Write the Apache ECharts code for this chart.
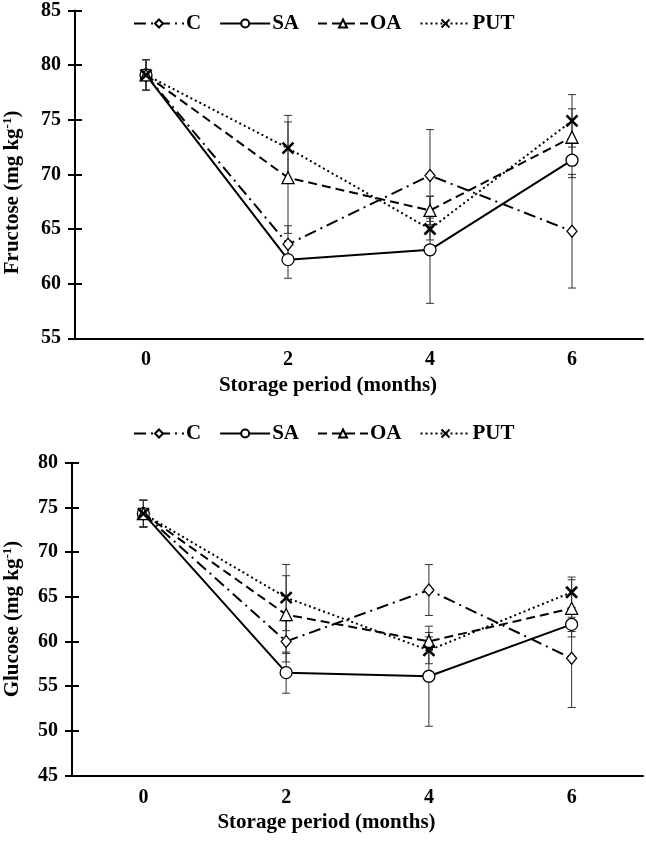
<!DOCTYPE html>
<html><head><meta charset="utf-8">
<script src="https://cdn.jsdelivr.net/npm/echarts@6/dist/echarts.min.js"></script>
<style>html,body{margin:0;padding:0;background:#fff}#c{width:646px;height:845px}</style>
</head><body><div id="c"></div>
<script>
const months = ['0', '2', '4', '6'];
const seriesNames = ['C', 'SA', 'OA', 'PUT'];
// Fructose (mg kg-1)
const fruC = [79.1, 63.6, 69.9, 64.8];
const fruSA = [79.1, 62.2, 63.1, 71.3];
const fruOA = [79.1, 69.7, 66.7, 73.4];
const fruPUT = [79.1, 72.4, 65.0, 74.9];
const fruErrC = [1.4, 1.7, 4.2, 5.2];
const fruErrSA = [1.4, 1.7, 4.9, 1.6];
const fruErrOA = [1.4, 5.1, 1.3, 2.6];
const fruErrPUT = [1.4, 3.0, 1.0, 2.4];
// Glucose (mg kg-1)
const gluC = [74.3, 60.0, 65.75, 58.1];
const gluSA = [74.3, 56.5, 56.1, 61.9];
const gluOA = [74.3, 63.0, 60.0, 63.7];
const gluPUT = [74.3, 64.9, 59.0, 65.5];
const gluErrC = [1.5, 2.3, 2.85, 5.5];
const gluErrSA = [1.5, 2.3, 5.6, 0.8];
const gluErrOA = [1.5, 4.35, 1.0, 3.2];
const gluErrPUT = [1.5, 3.7, 1.5, 1.7];
const fruTicks = [55, 60, 65, 70, 75, 80, 85];
const gluTicks = [45, 50, 55, 60, 65, 70, 75, 80];

const FONT = 'Liberation Serif';
const styles = {
  C: {symbol: 'diamond', symbolSize: [10, 12], type: [12, 5, 2, 5]},
  SA: {symbol: 'circle', symbolSize: 12, type: 'solid'},
  OA: {symbol: 'triangle', symbolSize: 12, type: [9, 5]},
  PUT: {symbol: 'path://M0,0L10,10M0,10L10,0', symbolSize: 11, type: [2, 3]}
};

function lineSeries(name, data, gi) {
  const s = styles[name];
  const isX = name === 'PUT';
  return {
    type: 'line', name: name, data: data, xAxisIndex: gi * 2, yAxisIndex: gi * 2,
    symbol: s.symbol, symbolSize: s.symbolSize, showAllSymbol: true,
    lineStyle: {color: '#000', width: 2, type: s.type},
    itemStyle: {color: isX ? '#000' : '#fff', borderColor: '#000', borderWidth: isX ? 2.6 : 1.3},
    z: 3, animation: false
  };
}

function errSeries(vals, errs, gi) {
  const data = [];
  vals.forEach((arr, si) => {
    arr.forEach((v, i) => { data.push([i, v - errs[si][i], v + errs[si][i]]); });
  });
  return {
    type: 'custom', xAxisIndex: gi * 2, yAxisIndex: gi * 2, data: data, z: 2, animation: false,
    silent: true,
    renderItem: function (params, api) {
      const x = api.value(0);
      const lo = api.coord([x, api.value(1)]);
      const hi = api.coord([x, api.value(2)]);
      const w = 4;
      const st = {stroke: '#333', lineWidth: 1, fill: null};
      return {type: 'group', children: [
        {type: 'line', shape: {x1: lo[0], y1: lo[1], x2: hi[0], y2: hi[1]}, style: st},
        {type: 'line', shape: {x1: lo[0] - w, y1: lo[1], x2: lo[0] + w, y2: lo[1]}, style: st},
        {type: 'line', shape: {x1: hi[0] - w, y1: hi[1], x2: hi[0] + w, y2: hi[1]}, style: st}
      ]};
    }
  };
}

const axisLineStyle = {color: '#000', width: 2};
function xAxes(gi, name) {
  return [
    {type: 'category', gridIndex: gi, data: months, boundaryGap: true,
     axisLine: {lineStyle: axisLineStyle}, axisTick: {length: 7, lineStyle: {color: '#000', width: 2}},
     axisLabel: {color: '#000', fontFamily: FONT, fontWeight: 'bold', fontSize: 20, margin: 12},
     name: name, nameLocation: 'middle', nameGap: 37,
     nameTextStyle: {color: '#000', fontFamily: FONT, fontWeight: 'bold', fontSize: 21, padding: [0, 62, 0, 0]}},
    {type: 'category', gridIndex: gi, data: months, boundaryGap: true, position: 'bottom',
     axisLine: {show: false}, axisTick: {inside: true, length: 7, lineStyle: {color: '#000', width: 2}},
     axisLabel: {show: false}}
  ];
}
function yAxes(gi, min, max, name, pad, gap) {
  return [
    {type: 'value', gridIndex: gi, min: min, max: max, interval: 5,
     axisLine: {show: true, lineStyle: axisLineStyle}, axisTick: {show: true, length: 7, lineStyle: {color: '#000', width: 2}},
     splitLine: {show: false},
     axisLabel: {color: '#000', fontFamily: FONT, fontWeight: 'bold', fontSize: 20, margin: 14},
     name: name, nameLocation: 'middle', nameRotate: 90, nameGap: gap,
     nameTextStyle: {color: '#000', fontFamily: FONT, fontWeight: 'bold', fontSize: 21, padding: pad,
       rich: {sup: {fontFamily: FONT, fontWeight: 'bold', fontSize: 13, color: '#000', padding: [0, 0, 10, 0]}}}},
    {type: 'value', gridIndex: gi, min: min, max: max, interval: 5, position: 'left',
     axisLine: {show: false}, axisTick: {show: true, inside: true, length: 7, lineStyle: {color: '#000', width: 2}},
     splitLine: {show: false}, axisLabel: {show: false}}
  ];
}

function legendCfg(top) {
  return {
    top: top, left: 128, itemWidth: 50, itemHeight: 10, itemGap: 18, data: seriesNames,
    textStyle: {color: '#000', fontFamily: FONT, fontWeight: 'bold', fontSize: 21, padding: [0, 0, 0, -3]},
    selectedMode: false
  };
}

const chart = echarts.init(document.getElementById('c'), null, {renderer: 'canvas'});
chart.setOption({
  animation: false,
  backgroundColor: '#fff',
  legend: [legendCfg(8), legendCfg(418)],
  grid: [
    {left: 75, top: 10.5, width: 568, height: 327.8, outerBoundsMode: 'none', containLabel: false},
    {left: 72, top: 462.7, width: 571, height: 312.7, outerBoundsMode: 'none', containLabel: false}
  ],
  xAxis: [].concat(xAxes(0, 'Storage period (months)'), xAxes(1, 'Storage period (months)')),
  yAxis: [].concat(yAxes(0, fruTicks[0], fruTicks[fruTicks.length - 1], 'Fructose (mg kg{sup|-1})', [0, 36, 0, 0], 51),
                   yAxes(1, gluTicks[0], gluTicks[gluTicks.length - 1], 'Glucose (mg kg{sup|-1})', [0, 0, 0, 0], 48)),
  series: [
    errSeries([fruC, fruSA, fruOA, fruPUT], [fruErrC, fruErrSA, fruErrOA, fruErrPUT], 0),
    lineSeries('C', fruC, 0), lineSeries('SA', fruSA, 0), lineSeries('OA', fruOA, 0), lineSeries('PUT', fruPUT, 0),
    errSeries([gluC, gluSA, gluOA, gluPUT], [gluErrC, gluErrSA, gluErrOA, gluErrPUT], 1),
    lineSeries('C', gluC, 1), lineSeries('SA', gluSA, 1), lineSeries('OA', gluOA, 1), lineSeries('PUT', gluPUT, 1)
  ]
});
</script></body></html>
